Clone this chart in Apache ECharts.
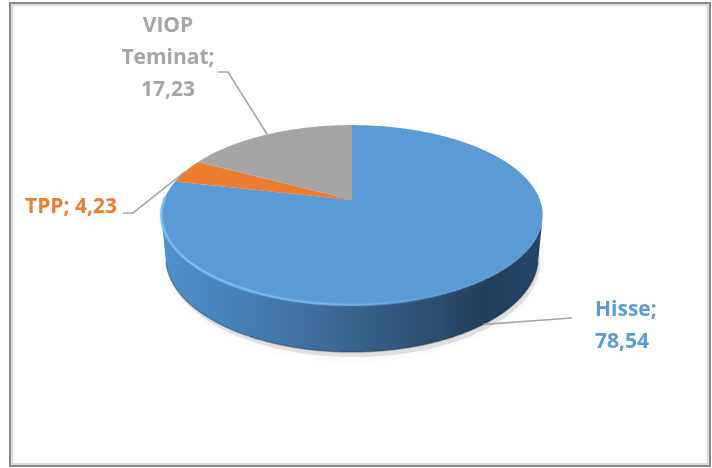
<!DOCTYPE html>
<html>
<head>
<meta charset="utf-8">
<script src="https://cdn.jsdelivr.net/npm/echarts@6/dist/echarts.min.js"></script>
<style>
html,body{margin:0;padding:0;background:#fff;}
#chart{width:712px;height:468px;}
</style>
</head>
<body>
<div id="chart"></div>
<script>
// ---- data ----
const categories = ['Hisse', 'TPP', 'VIOP Teminat'];
const values = [78.54, 4.23, 17.23];
const sliceColors = ['#5B9BD5', '#ED7D31', '#A5A5A5'];

// ---- layout (3D projection + label placement) ----
const CX = 352, CY = 200, F = 998, DIST = 5.31, SIN_A = 0.465, COS_A = 0.885, THICK = 0.257;
const labelLayout = [
  { text: function (n, v) { return n + ';\n' + v; }, x: 595, y: 326, align: 'left', elbow: [[572, 318]] },
  { text: function (n, v) { return n + '; ' + v; }, x: 117, y: 207, align: 'right', elbow: [[133, 213], [123, 213]] },
  { text: function (n, v) { return n.replace(' ', '\n') + ';\n' + v; }, x: 168, y: 58, align: 'center', elbow: [[228, 72], [218, 72]] }
];

function proj(theta, h) {
  const x = Math.sin(theta), z = Math.cos(theta);
  const Y = h * COS_A + z * SIN_A;
  const Z = DIST + z * COS_A - h * SIN_A;
  return [CX + F * x / Z, CY - F * Y / Z];
}
const total = values.reduce((a, b) => a + b, 0);
function sliceAngles(i) {
  let s = 0;
  for (let k = 0; k < i; k++) s += values[k];
  return [s / total * Math.PI * 2, (s + values[i]) / total * Math.PI * 2];
}
function fmt(v) { return v.toFixed(2).replace('.', ','); }
function frontFacing(a, b) {
  const pts = [proj(a, 0), proj(b, 0), proj(b, -THICK), proj(a, -THICK)];
  let area = 0;
  for (let k = 0; k < 4; k++) { const q = pts[k], r = pts[(k + 1) % 4]; area += q[0] * r[1] - r[0] * q[1]; }
  return area < 0;
}

const chart = echarts.init(document.getElementById('chart'), null, { renderer: 'canvas' });

function renderSide(params, api) {
  const i = params.dataIndex;
  const ang = sliceAngles(i);
  const children = [];
  if (i === 0) {
    const sh = [];
    for (let d = 0; d <= 360; d += 3) {
      const p = proj(d * Math.PI / 180, -THICK);
      sh.push([p[0] + 2, p[1] + 5]);
    }
    children.push({ type: 'polygon', shape: { points: sh }, style: { fill: 'rgba(0,0,0,0.10)', shadowBlur: 12, shadowColor: 'rgba(0,0,0,0.28)', shadowOffsetY: 3 } });
  }
  // visible (front-facing) angle ranges
  const step = Math.PI / 720;
  const ranges = [];
  let cur = null;
  for (let a = ang[0]; a < ang[1] - 1e-9; a += step) {
    const b = Math.min(a + step, ang[1]);
    if (frontFacing(a, b)) { if (!cur) { cur = [a, b]; ranges.push(cur); } else cur[1] = b; }
    else cur = null;
  }
  ranges.forEach(function (r) {
    const top = [], bot = [];
    const n = Math.max(2, Math.ceil((r[1] - r[0]) / step));
    for (let k = 0; k <= n; k++) {
      const t = r[0] + (r[1] - r[0]) * k / n;
      top.push(proj(t, 0));
      bot.push(proj(t, -THICK));
    }
    const pts = top.concat(bot.reverse());
    let fill;
    if (i === 0) {
      fill = new echarts.graphic.LinearGradient(CX - 190, 0, CX + 190, 0, [
        { offset: 0.0, color: '#5090cf' },
        { offset: 0.2, color: '#4780b8' },
        { offset: 0.45, color: '#3b6994' },
        { offset: 0.7, color: '#2c4f72' },
        { offset: 0.85, color: '#223d58' },
        { offset: 1.0, color: '#27456a' }
      ], true);
    } else {
      fill = sliceColors[i];
    }
    children.push({ type: 'polygon', shape: { points: pts }, style: { fill: fill } });
    // darker lower edge
    children.push({ type: 'polyline', shape: { points: bot }, style: { stroke: 'rgba(20,40,60,0.35)', lineWidth: 1.5, fill: null } });
  });
  return { type: 'group', children: children };
}

function renderTop(params, api) {
  const i = params.dataIndex;
  const ang = sliceAngles(i);
  const pts = [[CX, CY]];
  const n = Math.max(2, Math.ceil((ang[1] - ang[0]) / (Math.PI / 360)));
  for (let k = 0; k <= n; k++) pts.push(proj(ang[0] + (ang[1] - ang[0]) * k / n, 0));
  const children = [{ type: 'polygon', shape: { points: pts }, style: { fill: sliceColors[i] } }];
  // front rim highlight
  const hl = [];
  for (let k = 0; k <= n; k++) {
    const t = ang[0] + (ang[1] - ang[0]) * k / n;
    if (Math.cos(t) < 0.05) hl.push(proj(t, 0));
  }
  if (hl.length > 1) {
    children.push({ type: 'polyline', shape: { points: hl }, style: {
      stroke: new echarts.graphic.LinearGradient(CX - 190, 0, CX + 190, 0, [
        { offset: 0, color: 'rgba(125,190,250,0.95)' }, { offset: 0.5, color: 'rgba(118,180,238,0.75)' }, { offset: 0.85, color: 'rgba(90,150,210,0.1)' }, { offset: 1, color: 'rgba(90,150,210,0.0)' }
      ], true), lineWidth: 2.2, fill: null, shadowBlur: 2, shadowColor: 'rgba(120,185,245,0.6)' } });
  }
  // leader + label
  const mid = (ang[0] + ang[1]) / 2;
  const anchor = Math.cos(mid) < 0 ? proj(mid, -THICK) : proj(mid, 0);
  const L = labelLayout[i];
  children.push({ type: 'polyline', shape: { points: [anchor].concat(L.elbow) }, style: { stroke: '#A6A6A6', lineWidth: 1.6, fill: null } });
  children.push({ type: 'text', x: L.x, y: L.y, style: {
    text: L.text(categories[i], fmt(api.value(0))), fill: sliceColors[i],
    fontFamily: 'Open Sans', fontWeight: 'bold', fontSize: 21, lineHeight: 32,
    align: L.align, verticalAlign: 'middle'
  } });
  return { type: 'group', children: children };
}

const seriesData = values.map((v, i) => ({ name: categories[i], value: v }));

chart.setOption({
  backgroundColor: '#ffffff',
  animation: false,
  graphic: [
    { type: 'rect', shape: { x: 10, y: 3, width: 700, height: 463 }, style: { fill: null, stroke: '#8a8a8a', lineWidth: 2 }, z: 10 },
    { type: 'rect', shape: { x: 12, y: 5, width: 696, height: 459 }, style: { fill: null, stroke: '#d4d4d4', lineWidth: 1.5 }, z: 10 }
  ],
  series: [
    { type: 'custom', coordinateSystem: 'none', renderItem: renderSide, data: seriesData, z: 1, silent: true },
    { type: 'custom', coordinateSystem: 'none', renderItem: renderTop, data: seriesData, z: 2, silent: true }
  ]
});
</script>
</body>
</html>
